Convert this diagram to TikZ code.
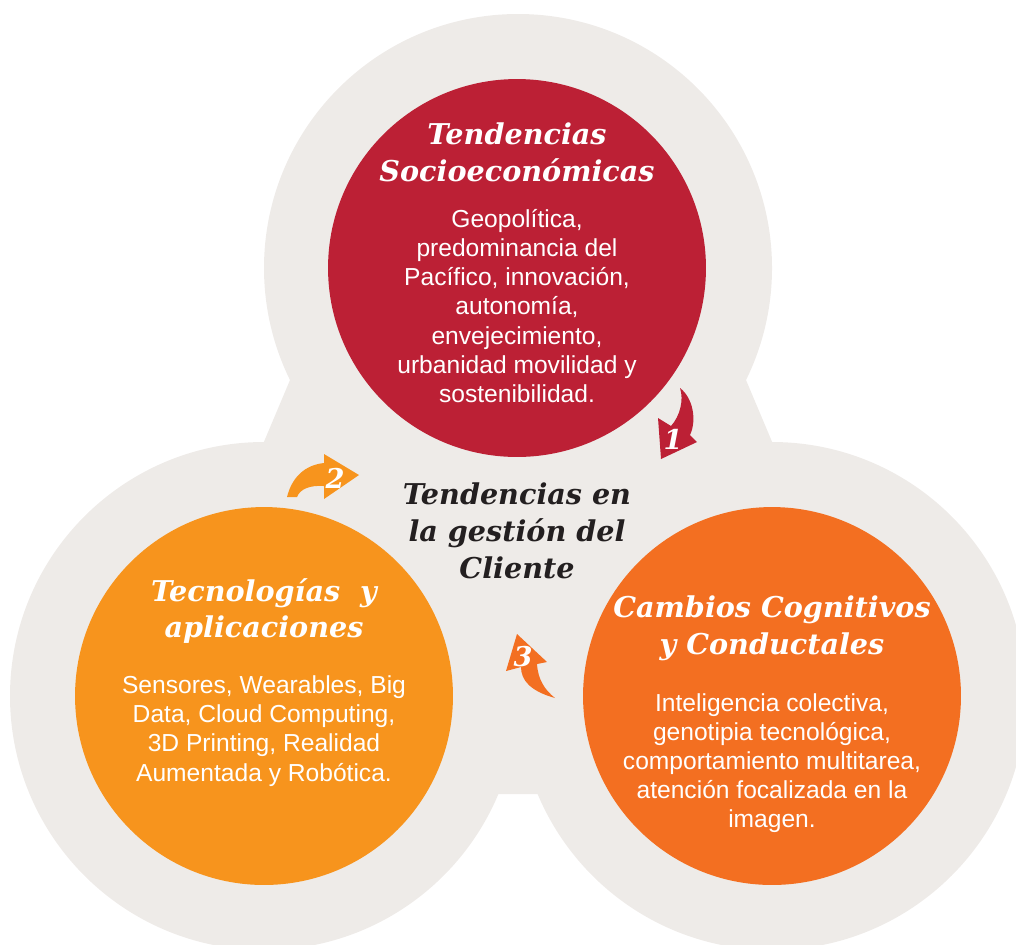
\documentclass[tikz,border=0pt]{standalone}
\usepackage{fontspec}
\setmainfont{Liberation Sans}
\newfontfamily\headfont{DejaVu Serif}
\usetikzlibrary{positioning}

\definecolor{ringgrey}{HTML}{EEEBE8}
\definecolor{socred}{HTML}{BC2035}
\definecolor{tecorange}{HTML}{F7941D}
\definecolor{cogorange}{HTML}{F36F21}
\definecolor{inkdark}{HTML}{231F20}

\tikzset{%
    ring/.style={fill=ringgrey},
    disc/.style={circle,inner sep=0pt,outer sep=0pt,minimum size=7.56cm},
    heading/.style={align=center,text=white,font=\headfont\bfseries\itshape\fontsize{16.3}{21}\selectfont},
    blurb/.style={align=center,text=white,font=\fontsize{14}{16.6}\selectfont},
    stepnum/.style={inner sep=0pt,text=white,font=\headfont\bfseries\itshape\fontsize{15.5}{15.5}\selectfont},
}

\begin{document}
\begin{tikzpicture}[x=0.02cm,y=-0.02cm]
	
	\useasboundingbox (0,0) rectangle (1016,944);
	\clip (0,0) rectangle (1016,944);
	
	%grey background
	\fill[ring] (518,268) circle (254);
	\fill[ring] (264,696) circle (254);
	\fill[ring] (772,696) circle (254);
	\fill[ring] (518,268) -- (290,380) -- (255,463) -- (480,794) -- (556,794) -- (781,463) -- (746,380) -- cycle;
	%%%%%%%%%%%%%%%%%%%
	
	\node[disc,fill=socred] (socio) at (517,268) {};
	\node[disc,fill=tecorange] (tecno) at (264,696) {};
	\node[disc,fill=cogorange] (cogni) at (772,696) {};
	
	\node[heading] (sociohead) at (517,152) {Tendencias\\Socioeconómicas};
	\node[blurb] (sociotext) at (517,306) {Geopolítica,\\predominancia del\\Pacífico, innovación,\\autonomía,\\envejecimiento,\\urbanidad movilidad y\\sostenibilidad.};
	
	\node[heading] (tecnohead) at (264,611) {Tecnologías \ y\\aplicaciones};
	\node[blurb] (tecnotext) at (264,731) {Sensores, Wearables, Big\\Data, Cloud Computing,\\3D Printing, Realidad\\Aumentada y Robótica.};
	
	\node[heading] (cognihead) at (772,628) {Cambios Cognitivos\\y Conductales};
	\node[blurb] (cognitext) at (772,763) {Inteligencia colectiva,\\genotipia tecnológica,\\comportamiento multitarea,\\atención focalizada en la\\imagen.};
	
	\node[heading,text=inkdark] (centre) at (517,531) {Tendencias en\\la gestión del\\Cliente};
	
	%curved arrows
	\fill[socred] (680,388) .. controls (693,398) and (697,420) .. (690,435) -- (697,442) -- (661,459) -- (658,418) -- (671,426) .. controls (680,416) and (684,400) .. (680,388) -- cycle;
	\fill[tecorange] (287,497) .. controls (292,477) and (305,465) .. (324,463) -- (324,454) -- (359,475) -- (324,499) -- (324,486) .. controls (310,485) and (300,489) .. (297,497) -- cycle;
	\fill[cogorange] (555,698) .. controls (530,691) and (521,680) .. (521,667) -- (506,671) -- (517,634) -- (547,662) -- (537,664) .. controls (538,680) and (545,690) .. (555,698) -- cycle;
	
	\node[stepnum] (one) at (673,439) {1};
	\node[stepnum] (two) at (335,478) {2};
	\node[stepnum] (three) at (523,657) {3};
	
\end{tikzpicture}
\end{document}
